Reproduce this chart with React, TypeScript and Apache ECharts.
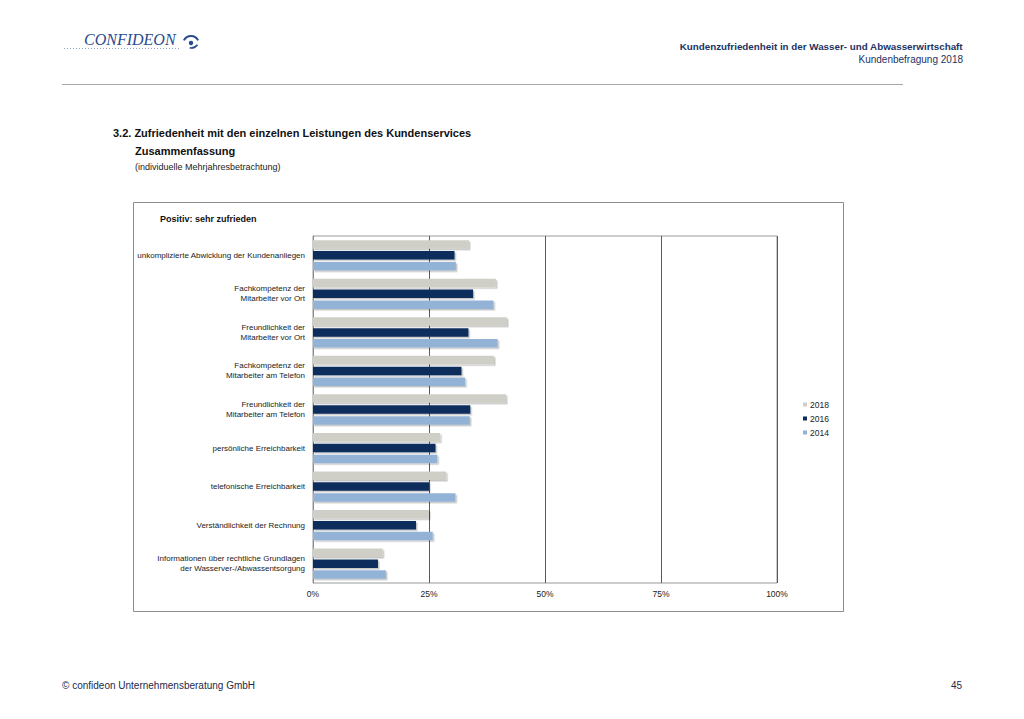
import React, { useEffect, useRef } from "react";
import * as echarts from "echarts";

const categories = [
  "unkomplizierte Abwicklung der Kundenanliegen",
  "Fachkompetenz der\nMitarbeiter vor Ort",
  "Freundlichkeit der\nMitarbeiter vor Ort",
  "Fachkompetenz der\nMitarbeiter am Telefon",
  "Freundlichkeit der\nMitarbeiter am Telefon",
  "persönliche Erreichbarkeit",
  "telefonische Erreichbarkeit",
  "Verständlichkeit der Rechnung",
  "Informationen über rechtliche Grundlagen\nder Wasserver-/Abwassentsorgung",
];
const seriesNames = ["2018", "2016", "2014"];
const values2018 = [33.6, 39.4, 41.8, 39.0, 41.6, 27.4, 28.7, 25.0, 15.0];
const values2016 = [30.5, 34.5, 33.5, 32.0, 33.9, 26.4, 25.0, 22.2, 14.0];
const values2014 = [30.8, 38.9, 39.8, 32.8, 33.8, 26.8, 30.7, 25.8, 15.7];
const xTicks = [0, 25, 50, 75, 100];

const colors = ["#cfcfc7", "#0b2d5b", "#93b3d6"];
const FONT = "Liberation Sans, Arial, sans-serif";

export default function App() {
  const ref = useRef<HTMLDivElement>(null);
  useEffect(() => {
    if (!ref.current) return;
    const chart = echarts.init(ref.current, null, { renderer: "svg" });
    const data = [values2018, values2016, values2014];
    chart.setOption({
      animation: false,
      backgroundColor: "#ffffff",
      textStyle: { fontFamily: FONT },
      grid: {
        left: 313,
        right: 1024 - 777,
        top: 236,
        bottom: 719 - 583,
        show: true,
        borderColor: "#9a9a9a",
        borderWidth: 1,
      },
      legend: {
        orient: "vertical",
        left: 798,
        top: 395,
        itemWidth: 4,
        itemHeight: 4,
        itemGap: 5,
        icon: "rect",
        data: seriesNames,
        textStyle: { fontSize: 8.5, color: "#222", fontFamily: FONT, padding: [0, 0, 0, -2] },
      },
      xAxis: {
        type: "value",
        min: xTicks[0],
        max: xTicks[xTicks.length - 1],
        interval: 25,
        axisLabel: {
          formatter: "{value}%",
          fontSize: 8.5,
          color: "#222",
          margin: 6,
          fontFamily: FONT,
        },
        axisLine: { show: false },
        axisTick: { show: false },
        splitLine: { show: true, lineStyle: { color: "#5a5a5a", width: 1 } },
      },
      yAxis: {
        type: "category",
        inverse: true,
        data: categories,
        axisTick: { show: false },
        axisLine: { show: true, lineStyle: { color: "#8a8a8a" } },
        axisLabel: {
          fontSize: 8,
          color: "#222",
          lineHeight: 10,
          margin: 8,
          fontFamily: FONT,
          interval: 0,
        },
      },
      series: seriesNames.map((name, i) => ({
        name,
        type: "bar",
        data: data[i],
        barWidth: 8.5,
        barGap: "28%",
        itemStyle: {
          color: colors[i],
          shadowColor: "rgba(0,0,0,0.22)",
          shadowBlur: 1,
          shadowOffsetX: 1.5,
          shadowOffsetY: 1.5,
        },
      })),
      graphic: [
        // logo
        {
          type: "text",
          left: 84,
          top: 31,
          style: {
            text: "CONFIDEON",
            font: "italic 16px 'Liberation Serif', serif",
            fill: "#2a4b8d",
          },
        },
        {
          type: "arc",
          shape: { cx: 191, cy: 44, r: 8, startAngle: Math.PI * 1.15, endAngle: Math.PI * 1.85 },
          style: { stroke: "#2a4b8d", lineWidth: 2, fill: "none" },
        },
        {
          type: "circle",
          shape: { cx: 191, cy: 43, r: 2.2 },
          style: { fill: "#2a4b8d" },
        },
        {
          type: "arc",
          shape: { cx: 191, cy: 40, r: 8, startAngle: Math.PI * 0.2, endAngle: Math.PI * 0.55 },
          style: { stroke: "#2a4b8d", lineWidth: 1.6, fill: "none" },
        },
        {
          type: "line",
          shape: { x1: 64, y1: 48.5, x2: 180, y2: 48.5 },
          style: { stroke: "#8fa2c4", lineWidth: 1, lineDash: [1, 2] },
        },
        // header right
        {
          type: "text",
          right: 1024 - 963,
          top: 41,
          style: {
            text: "Kundenzufriedenheit in der Wasser- und Abwasserwirtschaft",
            font: "bold 9.8px " + FONT,
            fill: "#1b3464",
            align: "right",
          },
        },
        {
          type: "text",
          right: 1024 - 963,
          top: 54,
          style: {
            text: "Kundenbefragung 2018",
            font: "10px " + FONT,
            fill: "#1b3464",
            align: "right",
          },
        },
        {
          type: "line",
          shape: { x1: 62, y1: 84.5, x2: 903, y2: 84.5 },
          style: { stroke: "#a8a8a8", lineWidth: 1 },
        },
        // section titles
        {
          type: "text",
          left: 113,
          top: 127,
          style: {
            text: "3.2. Zufriedenheit mit den einzelnen Leistungen des Kundenservices",
            font: "bold 11px " + FONT,
            fill: "#111",
          },
        },
        {
          type: "text",
          left: 135,
          top: 145,
          style: { text: "Zusammenfassung", font: "bold 11px " + FONT, fill: "#111" },
        },
        {
          type: "text",
          left: 135,
          top: 162,
          style: { text: "(individuelle Mehrjahresbetrachtung)", font: "9px " + FONT, fill: "#222" },
        },
        // chart box
        {
          type: "rect",
          shape: { x: 133.5, y: 202.5, width: 710, height: 409 },
          style: { fill: "none", stroke: "#8c8c8c", lineWidth: 1 },
          z: -1,
        },
        {
          type: "text",
          left: 160,
          top: 214,
          style: { text: "Positiv: sehr zufrieden", font: "bold 9px " + FONT, fill: "#111" },
        },
        // footer
        {
          type: "text",
          left: 62,
          top: 680,
          style: {
            text: "© confideon Unternehmensberatung GmbH",
            font: "10px " + FONT,
            fill: "#1b2a4a",
          },
        },
        {
          type: "text",
          right: 1024 - 962,
          top: 680,
          style: { text: "45", font: "10px " + FONT, fill: "#1b2a4a", align: "right" },
        },
      ],
    });
    return () => chart.dispose();
  }, []);
  return (
    <div
      ref={ref}
      style={{ position: "fixed", left: 0, top: 0, width: 1024, height: 719, background: "#fff" }}
    />
  );
}
